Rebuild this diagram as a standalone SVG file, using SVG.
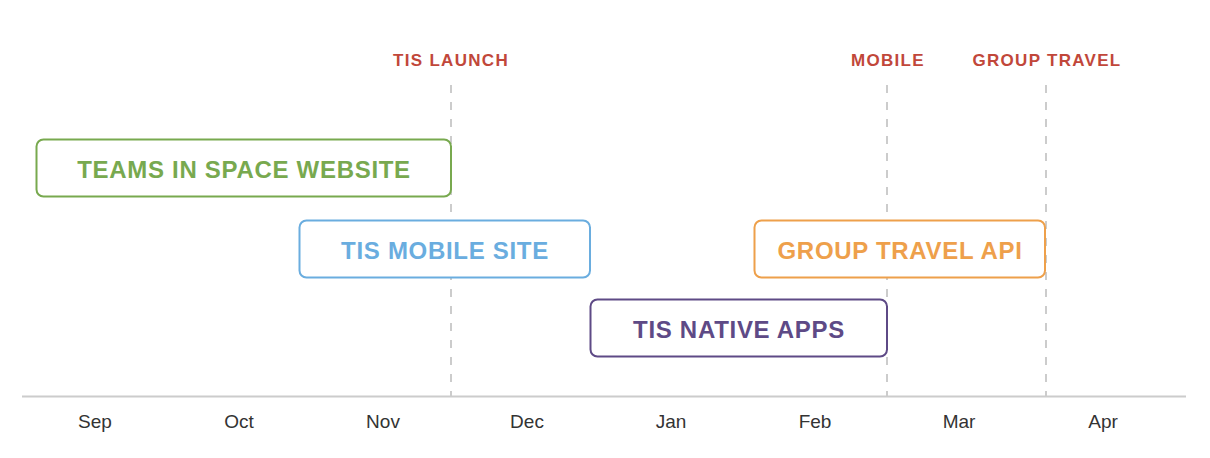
<svg xmlns="http://www.w3.org/2000/svg" width="1210" height="458" viewBox="0 0 1210 458">
<style>
.bg{fill:#ffffff}
.box{fill:#ffffff;stroke-width:2}
.lbl{font-family:"Liberation Sans",Arial,Helvetica,sans-serif;font-weight:bold;font-size:24px;letter-spacing:0.7px;text-anchor:middle}
.ms{font-family:"Liberation Sans",Arial,Helvetica,sans-serif;font-weight:bold;font-size:17px;letter-spacing:1.3px;text-anchor:middle;fill:#c1473a}
.mo{font-family:"Liberation Sans",Arial,Helvetica,sans-serif;font-size:19px;text-anchor:middle;fill:#333333}
.dash{stroke:#cccccc;stroke-width:2;stroke-dasharray:8 9;fill:none}
.axis{stroke:#cccccc;stroke-width:2;fill:none}
</style>
<rect class="bg" x="0" y="0" width="1210" height="458"/>
<g id="connectors">
<line class="dash" x1="451" y1="85" x2="451" y2="396"/>
<line class="dash" x1="887" y1="85" x2="887" y2="396"/>
<line class="dash" x1="1046" y1="85" x2="1046" y2="396"/>
<line class="axis" x1="22" y1="396.5" x2="1186" y2="396.5"/>
</g>
<g id="milestones">
<text class="ms" x="451" y="66">TIS LAUNCH</text>
<text class="ms" x="888" y="66">MOBILE</text>
<text class="ms" x="1047" y="66">GROUP TRAVEL</text>
</g>
<g id="node-website">
<rect class="box" x="36.5" y="139.5" width="414.5" height="57" rx="7" stroke="#78a94f"/>
<text class="lbl" x="244" y="178" fill="#78a94f">TEAMS IN SPACE WEBSITE</text>
</g>
<g id="node-mobile-site">
<rect class="box" x="299.5" y="220.5" width="290.5" height="57" rx="7" stroke="#6aaddf"/>
<text class="lbl" x="445" y="259" fill="#6aaddf">TIS MOBILE SITE</text>
</g>
<g id="node-group-travel-api">
<rect class="box" x="754.5" y="220.5" width="290.5" height="57" rx="7" stroke="#eea04b"/>
<text class="lbl" x="900" y="259" fill="#eea04b">GROUP TRAVEL API</text>
</g>
<g id="node-native-apps">
<rect class="box" x="590.5" y="299.5" width="296.5" height="57" rx="7" stroke="#5e4a86"/>
<text class="lbl" x="739" y="338" fill="#5e4a86">TIS NATIVE APPS</text>
</g>
<g id="months">
<text class="mo" x="95" y="428">Sep</text>
<text class="mo" x="239" y="428">Oct</text>
<text class="mo" x="383" y="428">Nov</text>
<text class="mo" x="527" y="428">Dec</text>
<text class="mo" x="671" y="428">Jan</text>
<text class="mo" x="815" y="428">Feb</text>
<text class="mo" x="959" y="428">Mar</text>
<text class="mo" x="1103" y="428">Apr</text>
</g>
</svg>
